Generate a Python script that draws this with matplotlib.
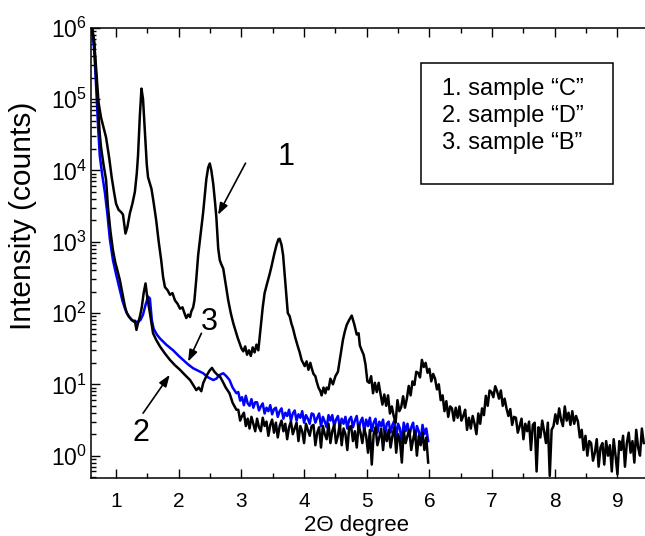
import numpy as np
import matplotlib
matplotlib.use('Agg')
import matplotlib.pyplot as plt
from matplotlib.ticker import FixedLocator, NullFormatter, LogFormatterSciNotation
from matplotlib.patches import Rectangle

plt.rcParams['font.family'] = ['Liberation Sans', 'DejaVu Sans']
plt.rcParams['mathtext.fontset'] = 'custom'
plt.rcParams['mathtext.rm'] = 'Liberation Sans'

# sample "C" (curve 1) - smooth part with the sharp peaks
x1_peaks = [0.62, 0.65, 0.68, 0.72, 0.76, 0.80, 0.84, 0.89, 0.93, 0.97,
            1.00, 1.04, 1.08, 1.11, 1.15, 1.18, 1.22, 1.26, 1.30, 1.33,
            1.35, 1.38, 1.405, 1.43, 1.46, 1.49, 1.51, 1.54, 1.565, 1.60,
            1.64, 1.68, 1.72, 1.75, 1.78, 1.82, 1.86, 1.90, 1.94, 1.98,
            2.02, 2.06, 2.09, 2.12, 2.15, 2.18, 2.20, 2.23, 2.25, 2.28,
            2.31, 2.35, 2.39, 2.44, 2.47, 2.495, 2.52, 2.55, 2.58, 2.60,
            2.63, 2.655, 2.68, 2.71, 2.75, 2.79, 2.83, 2.87, 2.91, 2.94,
            2.97, 3.00, 3.03, 3.06, 3.09, 3.12, 3.15, 3.18, 3.21, 3.24,
            3.27, 3.30, 3.34, 3.37, 3.41, 3.45, 3.48, 3.52, 3.56, 3.59,
            3.61, 3.64, 3.665, 3.69, 3.72, 3.74, 3.77, 3.80, 3.82, 3.86,
            3.90, 3.93, 3.96, 4.01, 4.04, 4.07, 4.10, 4.12, 4.15, 4.18,
            4.20, 4.23, 4.26, 4.28, 4.31, 4.34, 4.36, 4.39, 4.42, 4.46,
            4.50, 4.54, 4.58, 4.62, 4.65, 4.68, 4.72, 4.76, 4.80, 4.84,
            4.87, 4.89, 4.92, 4.95]
y1_peaks = [9.5e5, 6.5e5, 2.8e5, 9.0e4, 5.5e4, 4.0e4, 2.9e4, 1.5e4, 8.0e3, 4.8e3,
            3.4e3, 2.8e3, 2.6e3, 2.4e3, 1.3e3, 1.6e3, 2.5e3, 3.4e3, 5.0e3, 9.0e3,
            1.6e4, 6.0e4, 1.4e5, 1.0e5, 3.5e4, 1.2e4, 8.0e3, 6.5e3, 5.5e3, 3.5e3,
            2.0e3, 1.0e3, 550, 320, 230, 210, 180, 190, 150, 135,
            115, 120, 100, 85, 95, 88, 105, 120, 150, 300,
            650, 1.3e3, 2.6e3, 7.5e3, 1.1e4, 1.25e4, 1.0e4, 6.5e3, 3.5e3, 2.2e3,
            800, 550, 480, 420, 250, 150, 100, 72, 55, 45,
            38, 32, 29, 34, 26, 30, 25, 33, 28, 36,
            30, 55, 120, 190, 260, 350, 450, 650, 900, 1.08e3,
            1.1e3, 900, 650, 350, 160, 100, 90, 70, 62, 45,
            34, 28, 22, 18, 21, 16, 20, 17, 14, 13,
            11, 9, 8, 7, 9, 7.5, 9, 8.5, 12, 10,
            13, 15, 25, 42, 55, 68, 80, 92, 70, 50,
            52, 35, 30, 26]
# sample "C" noisy tail, 4.98 .. 9.42 in 0.03 steps
x1_tail_range = (4.98, 9.42, 149)
y1_tail = [19, 11, 10.5, 13, 7.5, 10.5, 7.8, 10.5, 7.3, 5.2,
           7.2, 5.0, 7.0, 3.9, 4.9, 3.6, 2.9, 6.0, 4.2, 4.8,
           6.8, 4.7, 6.3, 9.5, 7.0, 11, 9.8, 15, 14.5, 12.5,
           22, 17.5, 20, 14.5, 16.5, 11, 14, 12, 8.5, 10,
           6.0, 7.0, 4.2, 5.8, 3.5, 4.9, 4.6, 3.1, 4.7, 3.4,
           4.9, 3.1, 3.6, 4.4, 2.3, 3.4, 2.4, 3.6, 2.8, 2.0,
           3.9, 2.8, 4.6, 3.7, 6.9, 5.0, 8.2, 7.8, 6.6, 9.4,
           8.0, 6.3, 8.2, 5.0, 6.3, 4.6, 3.6, 4.5, 2.7, 3.5,
           3.4, 2.1, 2.6, 3.3, 1.7, 2.8, 2.2, 3.0, 1.2, 2.7,
           2.9, 0.6, 2.5, 1.8, 3.1, 2.2, 1.5, 2.9, 0.52, 2.3,
           2.6, 3.8, 2.8, 4.6, 3.2, 2.6, 4.9, 3.1, 4.0, 2.7,
           4.2, 2.8, 3.6, 3.0, 1.8, 2.3, 1.2, 1.9, 1.0, 1.6,
           1.5, 0.85, 1.1, 1.7, 0.7, 1.3, 1.5, 0.75, 1.6, 1.0,
           1.4, 0.6, 1.7, 1.0, 0.55, 1.6, 1.2, 1.9, 0.7, 1.5,
           2.1, 1.1, 1.6, 0.8, 2.3, 1.3, 1.0, 2.4, 1.5]

# sample "D" (curve 2)
x2_head = [0.62, 0.65, 0.68, 0.71, 0.74, 0.76, 0.80, 0.84, 0.87, 0.91,
           0.95, 0.99, 1.02, 1.06, 1.10, 1.14, 1.17, 1.21, 1.25, 1.28,
           1.30, 1.325, 1.35, 1.38, 1.41, 1.44, 1.47, 1.50, 1.54, 1.57,
           1.59, 1.64, 1.70, 1.78, 1.86, 1.94, 2.02, 2.10, 2.18, 2.24,
           2.28, 2.32, 2.36, 2.39, 2.44, 2.49, 2.53, 2.57, 2.62, 2.655,
           2.70, 2.75, 2.81, 2.86, 2.92]
y2_head = [9.5e5, 6.0e5, 2.2e5, 8.0e4, 3.2e4, 2.1e4, 1.2e4, 7.4e3, 3.1e3, 1.4e3,
           760, 500, 400, 290, 190, 125, 100, 88, 80, 76,
           78, 58, 72, 89, 120, 190, 260, 160, 100, 68,
           52, 42, 34, 27, 22, 18.5, 16, 13.5, 11.5, 9.5,
           8.3, 9.0, 8.0, 10.4, 13, 15.5, 17, 15, 13.5, 13,
           11, 9, 7.5, 5.5, 4.4]
# noisy part 2.95 .. 5.98 in 0.03 steps (curves 2 and 3)
x_tail_range = (2.95, 5.98, 102)
y2_tail = [4.4, 3.1, 3.6, 4.0, 2.6, 3.3, 2.4, 3.5, 2.8, 2.2,
           3.3, 2.5, 2.2, 3.4, 2.6, 3.0, 1.9, 2.7, 3.2, 2.1,
           2.9, 1.8, 2.6, 3.1, 2.2, 2.8, 1.7, 2.5, 3.0, 2.0,
           2.4, 2.9, 1.6, 2.6, 2.2, 1.5, 2.8, 2.3, 1.9, 2.6,
           2.7, 1.4, 2.1, 2.5, 1.3, 2.6, 2.0, 1.7, 2.8, 1.5,
           2.2, 2.7, 1.5, 1.9, 2.8, 1.4, 2.4, 2.0, 1.2, 2.5,
           2.6, 1.6, 2.2, 1.3, 2.7, 2.1, 1.5, 2.4, 1.9, 1.1,
           2.3, 0.75, 2.0, 2.5, 1.4, 1.8, 2.4, 1.2, 2.2, 1.6,
           2.3, 1.3, 1.9, 2.5, 1.1, 2.0, 1.6, 0.8, 2.2, 1.5,
           1.9, 2.3, 1.2, 1.7, 2.2, 1.0, 1.9, 1.4, 2.1, 1.2,
           1.8, 0.8]

# sample "B" (curve 3, blue)
x3_head = [0.62, 0.65, 0.68, 0.71, 0.74, 0.78, 0.82, 0.86, 0.90, 0.95,
           1.00, 1.05, 1.10, 1.15, 1.20, 1.25, 1.30, 1.35, 1.39, 1.43,
           1.47, 1.51, 1.54, 1.57, 1.60, 1.65, 1.70, 1.80, 1.91, 2.00,
           2.07, 2.15, 2.23, 2.31, 2.39, 2.47, 2.55, 2.60, 2.65, 2.71,
           2.76, 2.81, 2.86, 2.92]
y3_head = [9.0e5, 5.0e5, 1.6e5, 4.5e4, 1.6e4, 8.5e3, 5.0e3, 2.5e3, 1.1e3, 550,
           350, 230, 150, 110, 90, 80, 76, 75, 80, 95,
           130, 170, 160, 80, 60, 50, 44, 36, 30, 25,
           22, 19, 16.8, 15.5, 14.3, 12.5, 11.5, 12, 13.5, 14.3,
           13, 11.5, 9, 7.5]
y3_tail = [7.8, 5.9, 6.6, 5.1, 6.9, 5.4, 5.0, 6.2, 4.7, 5.6,
           5.6, 4.3, 4.9, 5.4, 3.9, 4.7, 4.2, 5.1, 3.8, 4.5,
           4.7, 3.5, 4.2, 4.6, 3.3, 4.0, 3.6, 4.4, 3.1, 3.9,
           4.3, 3.1, 3.8, 3.4, 4.2, 2.9, 3.7, 3.3, 2.8, 3.9,
           3.8, 2.9, 3.4, 3.9, 2.6, 3.5, 3.0, 2.5, 3.7, 3.1,
           3.7, 2.6, 3.2, 3.6, 2.5, 3.3, 2.8, 3.5, 2.4, 3.2,
           3.5, 2.5, 3.1, 3.6, 2.3, 3.0, 3.4, 2.2, 3.2, 2.6,
           3.4, 2.2, 2.9, 3.3, 2.1, 3.0, 2.6, 3.2, 1.9, 2.8,
           3.0, 2.1, 2.7, 3.1, 1.8, 2.8, 2.4, 1.5, 2.9, 2.2,
           2.8, 1.9, 2.5, 2.9, 1.7, 2.6, 2.2, 1.6, 2.7, 2.0,
           2.4, 1.6]

legend_lines = ['1. sample \u201cC\u201d', '2. sample \u201cD\u201d', '3. sample \u201cB\u201d']
x_major = [1, 2, 3, 4, 5, 6, 7, 8, 9]
x_minor = [1.5, 2.5, 3.5, 4.5, 5.5, 6.5, 7.5, 8.5]
y_major = [1e0, 1e1, 1e2, 1e3, 1e4, 1e5, 1e6]

# build full series
x1 = np.concatenate([x1_peaks, np.linspace(*x1_tail_range)])
y1 = np.concatenate([y1_peaks, y1_tail])
x_tail = np.linspace(*x_tail_range)
x2 = np.concatenate([x2_head, x_tail])
y2 = np.concatenate([y2_head, y2_tail])
x3 = np.concatenate([x3_head, x_tail])
y3 = np.concatenate([y3_head, y3_tail])

fig = plt.figure(figsize=(6.45, 5.36), dpi=100)
ax = fig.add_axes([0.1411, 0.1082, 0.8589, 0.8401])

ax.plot(x3, y3, color='#0000ff', lw=1.8)
ax.plot(x2, y2, color='black', lw=1.8)
ax.plot(x1, y1, color='black', lw=1.8)

ax.set_yscale('log')
ax.set_xlim(0.6, 9.44)
ax.set_ylim(0.486, 1.0e6)

ax.xaxis.set_major_locator(FixedLocator(x_major))
ax.xaxis.set_minor_locator(FixedLocator(x_minor))
ax.yaxis.set_major_locator(FixedLocator(y_major))
ax.yaxis.set_major_formatter(LogFormatterSciNotation())
y_minor = [m * d for d in [0.1, 1, 10, 100, 1e3, 1e4, 1e5] for m in range(2, 10)
           if 0.486 <= m * d <= 1e6]
ax.yaxis.set_minor_locator(FixedLocator(y_minor))
ax.yaxis.set_minor_formatter(NullFormatter())

ax.tick_params(which='both', direction='in', top=True, right=False, width=1.0)
ax.tick_params(which='major', length=6.5)
ax.tick_params(which='minor', length=3.5)
ax.tick_params(axis='x', labelsize=15, pad=10)
ax.tick_params(axis='y', labelsize=16.5, pad=3)
ax.spines['right'].set_visible(False)
for s in ['left', 'top', 'bottom']:
    ax.spines[s].set_linewidth(1.1)

ax.set_xlabel('2\u0398 degree', fontsize=16)
ax.xaxis.set_label_coords(0.48, -0.082)
ax.set_ylabel('Intensity (counts)', fontsize=21.5)
ax.yaxis.set_label_coords(-0.097, 0.582)

# legend box drawn by hand
ax.add_patch(Rectangle((0.595, 0.653), 0.347, 0.269, transform=ax.transAxes,
                       fill=False, lw=1.1, ec='black', zorder=5))
for i, txt in enumerate(legend_lines):
    ax.text(0.633, 0.864 - 0.06 * i, txt, transform=ax.transAxes,
            fontsize=17, va='center', ha='left')

# curve labels with arrows
arrow = dict(arrowstyle='-|>,head_length=0.5,head_width=0.18', color='black',
             lw=1.2, mutation_scale=14, shrinkA=0, shrinkB=0)
ax.text(3.72, 1.55e4, '1', fontsize=22, ha='center', va='center')
ax.annotate('', xy=(2.627, 2.38e3), xytext=(3.065, 1.26e4), arrowprops=arrow)
ax.text(2.495, 75.7, '3', fontsize=22, ha='center', va='center')
ax.annotate('', xy=(2.149, 20.8), xytext=(2.362, 52), arrowprops=arrow)
ax.text(1.389, 2.06, '2', fontsize=22, ha='center', va='center')
ax.annotate('', xy=(1.857, 13.6), xytext=(1.431, 3.94), arrowprops=arrow)

fig.savefig('out.png', dpi=100)
